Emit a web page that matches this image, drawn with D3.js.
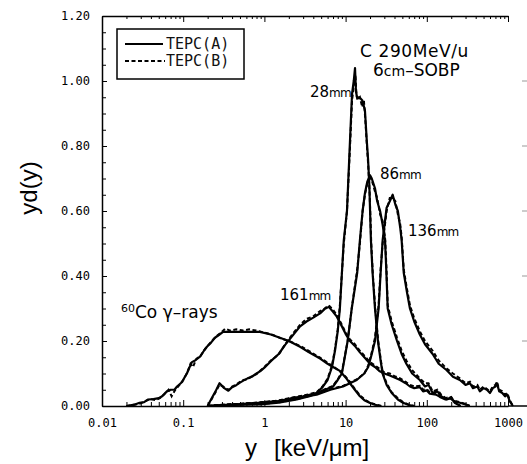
<!DOCTYPE html>
<html><head><meta charset="utf-8">
<script src="https://cdn.jsdelivr.net/npm/d3@7/dist/d3.min.js"></script>
<style>
html,body{margin:0;padding:0;background:#fff;}
svg{display:block;}
</style></head>
<body>
<svg id="chart" width="527" height="464"></svg>
<script>
// ---- data (x = y [keV/um], value = yd(y)) ----
const xTickValues = [0.01, 0.1, 1, 10, 100, 1000];
const xTickLabels = ["0.01", "0.1", "1", "10", "100", "1000"];
const yTickValues = [0, 0.2, 0.4, 0.6, 0.8, 1.0, 1.2];
const yTickLabels = ["0.00", "0.20", "0.40", "0.60", "0.80", "1.00", "1.20"];
const seriesNames = ["TEPC(A)", "TEPC(B)"];

const co60A = [[0.02,0],[0.025,0.004],[0.029,0.01],[0.033,0.012],[0.037,0.02],[0.043,0.021],[0.05,0.024],[0.055,0.03],[0.063,0.045],[0.07,0.05],[0.078,0.05],[0.084,0.06],[0.097,0.074],[0.105,0.09],[0.111,0.1],[0.12,0.12],[0.128,0.135],[0.14,0.14],[0.161,0.152],[0.18,0.17],[0.196,0.182],[0.22,0.195],[0.246,0.21],[0.28,0.22],[0.31,0.228],[0.4,0.228],[0.5,0.228],[0.7,0.228],[0.88,0.228],[1.2,0.22],[1.55,0.21],[2,0.2],[2.75,0.182],[3.5,0.166],[4.85,0.146],[6,0.13],[7,0.12],[8.5,0.108],[10,0.088],[11.3,0.07],[13,0.05],[15,0.03],[17,0.018],[20,0.009],[23,0.004],[27,0]];
const co60B = [[0.02,0],[0.024,0.003],[0.03,0.008],[0.034,0.015],[0.04,0.022],[0.046,0.018],[0.052,0.025],[0.058,0.035],[0.066,0.05],[0.072,0.03],[0.08,0.05],[0.09,0.065],[0.1,0.08],[0.108,0.095],[0.115,0.11],[0.123,0.13],[0.132,0.12],[0.145,0.145],[0.165,0.155],[0.185,0.175],[0.2,0.185],[0.225,0.2],[0.25,0.212],[0.29,0.225],[0.33,0.238],[0.38,0.232],[0.45,0.236],[0.55,0.232],[0.65,0.236],[0.8,0.232],[1.0,0.226],[1.3,0.218],[1.6,0.208],[2.1,0.198],[2.8,0.184],[3.6,0.168],[4.9,0.148],[6.1,0.132],[7.2,0.12],[8.6,0.106],[10,0.09],[11.5,0.072],[13.2,0.05],[15.2,0.032],[17.5,0.018],[20,0.01],[24,0.004],[28,0]];

const mm161A = [[0.2,0],[0.22,0.02],[0.25,0.045],[0.28,0.07],[0.32,0.055],[0.36,0.047],[0.4,0.058],[0.45,0.064],[0.5,0.072],[0.55,0.078],[0.62,0.085],[0.7,0.09],[0.8,0.1],[0.9,0.108],[1.0,0.118],[1.2,0.138],[1.5,0.16],[1.8,0.188],[2.2,0.215],[2.75,0.245],[3.3,0.26],[4,0.272],[4.85,0.285],[5.5,0.298],[6.2,0.305],[7,0.29],[7.8,0.275],[9,0.245],[10,0.222],[11.3,0.2],[13,0.185],[15,0.165],[17,0.15],[20,0.13],[23,0.12],[26,0.108],[30,0.1],[35,0.094],[40,0.088],[47,0.08],[55,0.07],[62,0.06],[70,0.055],[82,0.058],[90,0.045],[100,0.048],[109,0.038],[130,0.035],[145,0.028],[170,0.02],[192,0.024],[220,0.014],[255,0.01],[300,0.005],[338,0]];
const mm161B = [[0.2,0],[0.22,0.018],[0.25,0.042],[0.28,0.066],[0.32,0.058],[0.36,0.05],[0.4,0.06],[0.45,0.066],[0.5,0.074],[0.55,0.08],[0.62,0.082],[0.7,0.092],[0.8,0.098],[0.9,0.11],[1.0,0.12],[1.2,0.14],[1.5,0.158],[1.8,0.19],[2.2,0.22],[2.75,0.25],[3.3,0.268],[4,0.276],[4.85,0.292],[5.5,0.3],[6.2,0.31],[7,0.296],[7.8,0.28],[9,0.25],[10,0.226],[11.3,0.205],[13,0.19],[15,0.17],[17,0.155],[20,0.135],[23,0.125],[26,0.115],[30,0.104],[35,0.1],[40,0.092],[47,0.085],[55,0.074],[62,0.065],[70,0.06],[82,0.062],[90,0.05],[100,0.052],[109,0.042],[130,0.04],[145,0.03],[170,0.024],[192,0.028],[220,0.016],[255,0.012],[300,0.006],[338,0]];

const mm28A = [[0.2,0],[0.3,0.003],[0.5,0.005],[0.88,0.01],[1.5,0.015],[2.2,0.024],[3,0.03],[4.4,0.04],[5.2,0.058],[6.0,0.08],[6.8,0.12],[7.4,0.17],[8.0,0.23],[8.5,0.3],[9.5,0.51],[10.4,0.6],[11.3,0.81],[12.0,0.96],[12.6,1.0],[13.06,1.04],[13.4,0.97],[13.8,0.95],[14.8,0.95],[16.1,0.94],[17.3,0.91],[18.2,0.82],[18.9,0.76],[19.6,0.68],[20.5,0.51],[21.5,0.41],[23,0.3],[25,0.2],[27,0.14],[28.5,0.1],[32,0.065],[37,0.04],[44,0.02],[51,0.01],[60,0.003],[70,0]];
const mm28B = [[0.2,0],[0.3,0.004],[0.5,0.006],[0.88,0.011],[1.5,0.017],[2.2,0.026],[3,0.032],[4.4,0.042],[5.2,0.06],[6.0,0.084],[6.8,0.125],[7.4,0.175],[8.0,0.235],[8.5,0.31],[9.5,0.5],[10.4,0.6],[11.3,0.79],[12.0,0.94],[12.7,0.99],[13.2,1.02],[13.6,0.96],[14.0,0.94],[15.0,0.95],[16.0,0.92],[16.8,0.94],[17.5,0.88],[18.3,0.8],[19.0,0.74],[19.8,0.65],[20.7,0.5],[21.7,0.4],[23.2,0.3],[25.2,0.2],[27.2,0.14],[28.8,0.1],[32,0.07],[37,0.042],[44,0.024],[51,0.012],[60,0.004],[70,0]];

const mm86A = [[0.2,0],[0.35,0.003],[0.6,0.004],[0.88,0.005],[1.5,0.01],[2.5,0.02],[3.6,0.03],[5,0.045],[7,0.06],[8,0.08],[9,0.1],[10.6,0.2],[11.9,0.3],[13.9,0.41],[15,0.51],[16.2,0.6],[17.3,0.655],[18.5,0.69],[20,0.71],[21,0.7],[23,0.67],[24.5,0.63],[26.6,0.6],[28.5,0.56],[30.6,0.51],[31.8,0.41],[33,0.3],[37,0.25],[43,0.2],[49,0.16],[56,0.13],[66,0.1],[82,0.08],[95,0.06],[105,0.065],[118,0.04],[135,0.045],[150,0.03],[176,0.02],[200,0.025],[220,0.01],[260,0]];
const mm86B = [[0.2,0],[0.35,0.004],[0.6,0.005],[0.88,0.006],[1.5,0.011],[2.5,0.021],[3.6,0.032],[5,0.047],[7,0.062],[8,0.082],[9,0.105],[10.6,0.2],[11.9,0.3],[13.9,0.42],[15,0.5],[16.2,0.6],[17.3,0.65],[18.5,0.685],[20,0.7],[21,0.695],[23,0.66],[24.5,0.64],[26.6,0.59],[28.5,0.57],[30.6,0.52],[31.8,0.43],[33,0.31],[37,0.26],[43,0.21],[49,0.17],[56,0.14],[66,0.11],[82,0.085],[95,0.07],[105,0.07],[118,0.045],[135,0.05],[150,0.035],[176,0.022],[200,0.028],[220,0.012],[260,0]];

const mm136A = [[0.2,0],[0.4,0.004],[0.88,0.01],[1.5,0.015],[2.5,0.025],[4.4,0.035],[6.5,0.05],[9.3,0.06],[13.7,0.08],[17,0.1],[19,0.12],[21,0.16],[23,0.2],[25.5,0.3],[27,0.41],[28.6,0.51],[32,0.61],[35,0.63],[38,0.65],[41,0.62],[44,0.6],[47,0.55],[49,0.51],[52,0.41],[57,0.35],[62,0.3],[70,0.26],[82,0.22],[95,0.19],[118,0.16],[140,0.13],[176,0.11],[210,0.09],[255,0.08],[300,0.065],[340,0.07],[370,0.055],[420,0.06],[450,0.045],[500,0.055],[550,0.05],[600,0.04],[650,0.055],[700,0.06],[730,0.07],[780,0.045],[850,0.04],[920,0.03],[980,0.035],[1050,0.015],[1150,0]];
const mm136B = [[0.2,0],[0.4,0.005],[0.88,0.011],[1.5,0.016],[2.5,0.027],[4.4,0.037],[6.5,0.052],[9.3,0.062],[13.7,0.082],[17,0.1],[19,0.125],[21,0.165],[23,0.21],[25.5,0.31],[27,0.42],[28.6,0.5],[32,0.6],[35,0.64],[38,0.64],[41,0.63],[44,0.59],[47,0.56],[49,0.52],[52,0.42],[57,0.36],[62,0.31],[70,0.27],[82,0.23],[95,0.2],[118,0.17],[140,0.14],[176,0.115],[210,0.1],[255,0.085],[300,0.07],[340,0.075],[370,0.06],[420,0.065],[450,0.05],[500,0.06],[550,0.052],[600,0.045],[650,0.06],[700,0.065],[730,0.075],[780,0.05],[850,0.045],[920,0.035],[980,0.04],[1050,0.018],[1150,0]];

const seriesA = [co60A, mm161A, mm28A, mm86A, mm136A];
const seriesB = [co60B, mm161B, mm28B, mm86B, mm136B];

// ---- drawing ----
const svg = d3.select("#chart");
const x = d3.scaleLog().domain([0.01, 1000]).range([102, 508]);
const y = d3.scaleLinear().domain([0, 1.2]).range([406, 16]);
const tickFont = "'DejaVu Sans Mono', monospace";

// y axis (left), ticks inward
const yAxis = d3.axisLeft(y).tickValues(yTickValues)
  .tickFormat((d, i) => yTickLabels[i]).tickSizeInner(-5).tickSizeOuter(0).tickPadding(12);
const gy = svg.append("g").attr("transform", `translate(${x(0.01)},0)`).call(yAxis);
gy.selectAll("text").attr("font-family", tickFont).attr("font-size", 12).attr("fill", "#000");
const yMinor = d3.range(0.05, 1.2, 0.05).filter(v => Math.abs(v * 5 - Math.round(v * 5)) > 1e-6);
svg.append("g").attr("transform", `translate(${x(0.01)},0)`)
  .call(d3.axisLeft(y).tickValues(yMinor).tickFormat("").tickSizeInner(-4).tickSizeOuter(0))
  .select(".domain").remove();

// log minor tick values
const xMinor = [];
xTickValues.slice(0, -1).forEach(dec => { for (let k = 2; k <= 9; k++) xMinor.push(dec * k); });

// top axis, ticks pointing down
svg.append("g").attr("transform", `translate(0,${y(1.2)})`)
  .call(d3.axisTop(x).tickValues(xTickValues).tickFormat("").tickSizeInner(-6).tickSizeOuter(0));
svg.append("g").attr("transform", `translate(0,${y(1.2)})`)
  .call(d3.axisTop(x).tickValues(xMinor).tickFormat("").tickSizeInner(-3).tickSizeOuter(0))
  .select(".domain").remove();

// bottom axis, ticks pointing up
const xAxis = d3.axisBottom(x).tickValues(xTickValues)
  .tickFormat((d, i) => xTickLabels[i]).tickSizeInner(-6).tickSizeOuter(0).tickPadding(12);
const gx = svg.append("g").attr("transform", `translate(0,${y(0)})`).call(xAxis);
gx.selectAll("text").attr("font-family", tickFont).attr("font-size", 12).attr("fill", "#000");
svg.append("g").attr("transform", `translate(0,${y(0)})`)
  .call(d3.axisBottom(x).tickValues(xMinor).tickFormat("").tickSizeInner(-4).tickSizeOuter(0))
  .select(".domain").remove();
// baseline extends to right edge
svg.append("line").attr("x1", x(1000)).attr("x2", 527).attr("y1", y(0)).attr("y2", y(0))
  .attr("stroke", "#000").attr("stroke-width", 1.5);
// faint right-edge ticks
svg.append("g").selectAll("line").data(yTickValues.slice(1, -1)).join("line")
  .attr("x1", 522).attr("x2", 527).attr("y1", d => y(d)).attr("y2", d => y(d))
  .attr("stroke", "#999").attr("stroke-width", 1);

svg.selectAll(".domain").attr("stroke-width", 1.5);

// curves
const line = d3.line().x(d => x(d[0])).y(d => y(d[1]));
svg.append("g").selectAll("path").data(seriesB).join("path")
  .attr("d", line).attr("fill", "none").attr("stroke", "#000")
  .attr("stroke-width", 2).attr("stroke-dasharray", "4,2.5");
svg.append("g").selectAll("path").data(seriesA).join("path")
  .attr("d", line).attr("fill", "none").attr("stroke", "#000")
  .attr("stroke-width", 2.2).attr("stroke-linejoin", "round");

// legend
const lg = svg.append("g");
lg.append("rect").attr("x", 117).attr("y", 29).attr("width", 127).attr("height", 50)
  .attr("fill", "#fff").attr("stroke", "#000").attr("stroke-width", 1.5);
lg.append("line").attr("x1", 125).attr("x2", 163).attr("y1", 44).attr("y2", 44)
  .attr("stroke", "#000").attr("stroke-width", 2);
lg.append("line").attr("x1", 125).attr("x2", 165).attr("y1", 61).attr("y2", 61)
  .attr("stroke", "#000").attr("stroke-width", 1.8).attr("stroke-dasharray", "4,2.5");
lg.selectAll("text").data(seriesNames).join("text")
  .attr("x", 166).attr("y", (d, i) => 49 + i * 17)
  .attr("font-family", tickFont).attr("font-size", 15).attr("fill", "#111")
  .text(d => d);

// annotations
const sans = "'DejaVu Sans', sans-serif";
svg.append("text").attr("x", 360).attr("y", 57).attr("font-family", sans)
  .attr("font-size", 17).attr("letter-spacing", 0.6).text("C 290MeV/u");
const t2 = svg.append("text").attr("x", 373).attr("y", 76).attr("font-family", sans).attr("font-size", 17);
t2.append("tspan").text("6");
t2.append("tspan").attr("font-size", 14).text("cm");
t2.append("tspan").text("\u2013SOBP");

function mmLabel(xp, yp, num) {
  const t = svg.append("text").attr("x", xp).attr("y", yp).attr("font-family", sans).attr("font-size", 15);
  t.append("tspan").text(num);
  t.append("tspan").attr("font-size", 12).attr("letter-spacing", -0.8).text("mm");
}
mmLabel(310, 97, "28");
mmLabel(380, 179, "86");
mmLabel(408, 236, "136");
mmLabel(280, 300, "161");

const co = svg.append("text").attr("x", 121).attr("y", 318).attr("font-family", sans).attr("font-size", 17);
co.append("tspan").attr("font-size", 11).attr("dy", -6).text("60");
co.append("tspan").attr("dy", 6).text("Co \u03b3\u2013rays");

// axis titles
svg.append("text").attr("x", 245).attr("y", 456).attr("font-family", "'Liberation Sans', Arial, sans-serif")
  .attr("font-size", 24).text("y");
svg.append("text").attr("x", 274).attr("y", 456).attr("font-family", "'Liberation Sans', Arial, sans-serif")
  .attr("font-size", 24).text("[keV/\u03bcm]");
svg.append("text").attr("transform", "translate(37,188) rotate(-90)").attr("text-anchor", "middle")
  .attr("font-family", "'Liberation Sans', Arial, sans-serif").attr("font-size", 24).text("yd(y)");
</script>
</body></html>
